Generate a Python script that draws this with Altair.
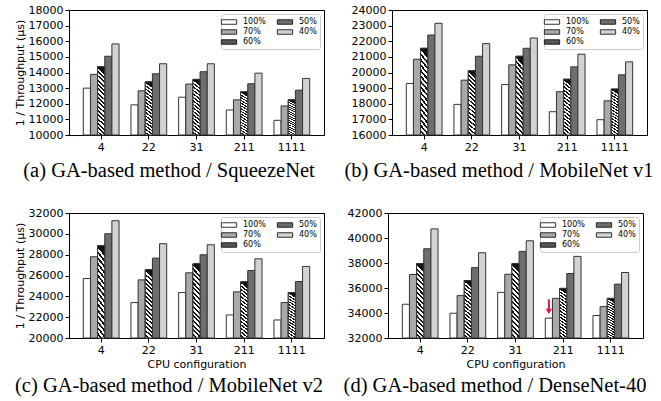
import altair as alt
import pandas as pd

configs = ["4", "22", "31", "211", "1111"]
series = ["100%", "70%", "60%", "50%", "40%"]
series_colors = ["#ffffff", "#a9a9a9", "#555555", "#6e6e6e", "#d2d2d2"]

squeezenet = {
    "100%": [13000, 11930, 12420, 11600, 10940],
    "70%": [13880, 12830, 13260, 12250, 11860],
    "60%": [14370, 13400, 13560, 12760, 12250],
    "50%": [15040, 13920, 14050, 13280, 12870],
    "40%": [15830, 14560, 14560, 13960, 13620],
}
mobilenet_v1 = {
    "100%": [19300, 17960, 19230, 17490, 16980],
    "70%": [20850, 19510, 20490, 18770, 18190],
    "60%": [21550, 20110, 21040, 19570, 18940],
    "50%": [22400, 21040, 21550, 20360, 19850],
    "40%": [23150, 21850, 22210, 21170, 20680],
}
mobilenet_v2 = {
    "100%": [25710, 23400, 24360, 22210, 21730],
    "70%": [27800, 25580, 26260, 24430, 23400],
    "60%": [28860, 26550, 27120, 25390, 24360],
    "50%": [30010, 27670, 27990, 26480, 25420],
    "40%": [31260, 29050, 28950, 27600, 26870],
}
densenet40 = {
    "100%": [34700, 33980, 35650, 33590, 33800],
    "70%": [37080, 35390, 37100, 35170, 34510],
    "60%": [37950, 36600, 37950, 35970, 35170],
    "50%": [39140, 37630, 38930, 37160, 36310],
    "40%": [40730, 38820, 39780, 38530, 37240],
}

captions = [
    "(a) GA-based method / SqueezeNet",
    "(b) GA-based method / MobileNet v1",
    "(c) GA-based method / MobileNet v2",
    "(d) GA-based method / DenseNet-40",
]
y_ranges = [(10000, 18000, 1000), (16000, 24000, 1000), (20000, 32000, 2000), (32000, 42000, 2000)]

arrow_cfg = "211"
arrow_series = "100%"
arrow_top = 35100
arrow_bottom = 34250
arrow_head = 34130

RED = "#e4143c"
STROKE = "#333333"

# diagonal hatch via hard-stop gradient
n_stripes = 16
stops = []
for i in range(n_stripes):
    s = i / n_stripes
    m = (i + 0.45) / n_stripes
    e = (i + 1) / n_stripes
    stops += [
        {"offset": s, "color": "#111111"},
        {"offset": m, "color": "#111111"},
        {"offset": m, "color": "#ffffff"},
        {"offset": e, "color": "#ffffff"},
    ]
hatch = {"gradient": "linear", "x1": 0.1, "y1": 0, "x2": 0, "y2": 1, "stops": stops}


def long_df(d):
    rows = []
    for s in series:
        for c, v in zip(configs, d[s]):
            rows.append({"cfg": c, "series": s, "value": v})
    return pd.DataFrame(rows)


def panel(d, rng, caption, ytitle, xtitle, title_offset, arrow=False):
    lo, hi, step = rng
    df = long_df(d)
    xscale = alt.Scale(domain=configs, paddingInner=0.25, paddingOuter=0.3)
    xaxis = alt.Axis(title=xtitle if xtitle else None, labelAngle=0)
    xoscale = alt.Scale(domain=series, paddingInner=0)
    yscale = alt.Scale(domain=[lo, hi], zero=False, nice=False)
    yaxis = alt.Axis(
        title=ytitle if ytitle else None,
        values=list(range(lo, hi + 1, step)),
        format="d",
        labelOverlap=False,
    )
    x = alt.X("cfg:N", sort=configs, scale=xscale, axis=xaxis)
    xo = alt.XOffset("series:N", sort=series, scale=xoscale)
    y = alt.Y("value:Q", scale=yscale, axis=yaxis)
    base = alt.Chart(df).mark_bar(stroke=STROKE, strokeWidth=1, opacity=1).encode(
        x=x,
        xOffset=xo,
        y=y,
        y2=alt.datum(lo),
        color=alt.Color(
            "series:N",
            sort=series,
            scale=alt.Scale(domain=series, range=series_colors),
            legend=alt.Legend(
                title=None,
                orient="top-right",
                columns=2,
                offset=4,
                labelFont="DejaVu Sans",
                labelFontSize=8,
                labelColor="black",
                symbolType="M-1.7,-0.5H1.7V0.5H-1.7Z",
                symbolSize=81,
                symbolStrokeColor="black",
                symbolStrokeWidth=0.8,
                symbolOpacity=1,
                strokeColor="#cccccc",
                fillColor="rgba(255,255,255,0.85)",
                padding=3,
                cornerRadius=2,
                rowPadding=1,
                columnPadding=9,
                labelOffset=9,
            ),
        ),
    )
    hatched = (
        alt.Chart(df)
        .transform_filter(alt.datum.series == "60%")
        .mark_bar(fill=hatch, stroke=STROKE, strokeWidth=1, opacity=1)
        .encode(x=x, xOffset=xo, y=y, y2=alt.datum(lo))
    )
    layers = [base, hatched]
    if arrow:
        adf = pd.DataFrame(
            [{"cfg": arrow_cfg, "series": arrow_series, "top": arrow_top, "bot": arrow_bottom, "head": arrow_head}]
        )
        rule = alt.Chart(adf).mark_rule(color=RED, strokeWidth=2).encode(
            x=alt.X("cfg:N", sort=configs, scale=xscale, axis=xaxis),
            xOffset=alt.XOffset("series:N", sort=series, scale=xoscale),
            y=alt.Y("top:Q", scale=yscale, axis=yaxis),
            y2="bot:Q",
        )
        head = alt.Chart(adf).mark_point(shape="triangle-down", filled=True, color=RED, size=40, opacity=1).encode(
            x=alt.X("cfg:N", sort=configs, scale=xscale, axis=xaxis),
            xOffset=alt.XOffset("series:N", sort=series, scale=xoscale),
            y=alt.Y("head:Q", scale=yscale, axis=yaxis),
        )
        layers += [rule, head]
    return alt.layer(*layers).properties(
        width=255,
        height=125,
        title=alt.TitleParams(
            caption,
            orient="bottom",
            anchor="middle",
            frame="bounds",
            font="Liberation Serif",
            fontSize=20.5,
            fontWeight="normal",
            color="black",
            baseline="top",
            offset=title_offset,
        ),
    )


a = panel(squeezenet, y_ranges[0], captions[0], "1 / Throughput (μs)", None, 9)
b = panel(mobilenet_v1, y_ranges[1], captions[1], None, None, 9)
c = panel(mobilenet_v2, y_ranges[2], captions[2], "1 / Throughput (μs)", "CPU configuration", 7)
d = panel(densenet40, y_ranges[3], captions[3], None, "CPU configuration", 7, arrow=True)

top = alt.hconcat(a, b, spacing=18).resolve_scale(color="independent", y="independent").resolve_legend(color="independent")
bottom = alt.hconcat(c, d, spacing=18).resolve_scale(color="independent", y="independent").resolve_legend(color="independent")

chart = (
    alt.vconcat(top, bottom, spacing=24)
    .resolve_scale(color="independent", y="independent")
    .resolve_legend(color="independent")
    .properties(padding={"left": 13, "top": 3, "right": 5, "bottom": 0}, background="white")
    .configure_view(stroke="black", strokeWidth=1)
    .configure_axis(
        labelFont="DejaVu Sans",
        labelFontSize=11,
        labelColor="black",
        titleFont="DejaVu Sans",
        titleFontSize=11,
        titleFontWeight="normal",
        titleColor="black",
        tickColor="black",
        tickSize=4,
        domainColor="black",
        grid=False,
        labelPadding=2,
        titlePadding=3,
    )
)

chart.save("out.html", embed_options={"renderer": "svg", "actions": False})
